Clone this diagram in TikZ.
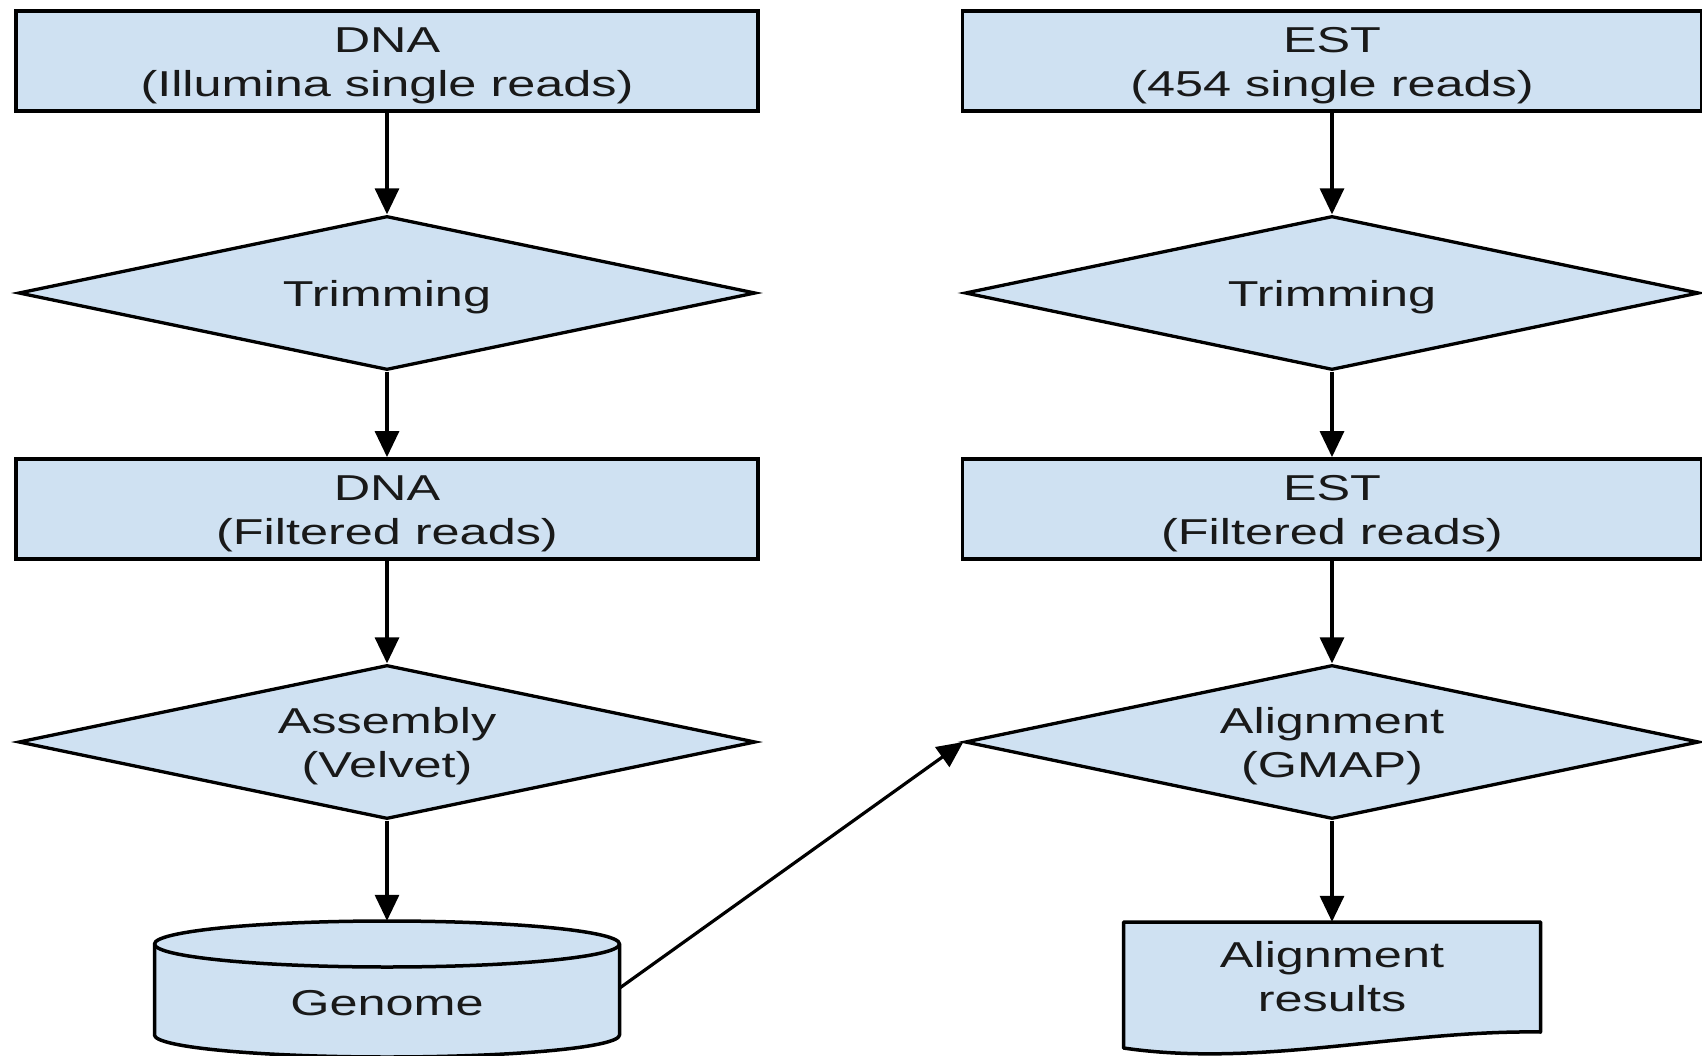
\documentclass[tikz,border=0pt]{standalone}
\usepackage{fontspec}
\setmainfont{Liberation Sans}[FakeStretch=1.4]
\usetikzlibrary{shapes.geometric,arrows.meta}
\definecolor{boxfill}{RGB}{207,225,242}
\newcommand{\lowlbl}[1]{\raisebox{-5pt}[\height][\depth]{\begin{tabular}{@{}c@{}}#1\end{tabular}}}
\begin{document}
\begin{tikzpicture}[x=1pt,y=-1pt,
  every node/.style={font=\fontsize{36}{44}\selectfont, inner sep=0pt, text=black!90},
  procbox/.style={draw, fill=boxfill, line width=3.8pt, minimum width=742pt, minimum height=100pt},
  decision/.style={diamond, draw, fill=boxfill, line width=3.3pt, minimum width=737pt, minimum height=154pt, shape aspect=4.8},
  arr/.style={line width=3.2pt, -{Triangle[width=24pt,length=26pt]}},
  shapeline/.style={draw, fill=boxfill, line width=3.5pt, line join=round}
]
\useasboundingbox (0,0) rectangle (1702,1056);

% left column
\node[procbox] (dna1) at (387,61) {\lowlbl{DNA\\(Illumina single reads)}};
\node[decision] (trim1) at (387,293) {\lowlbl{Trimming}};
\node[procbox] (dna2) at (387,509) {\lowlbl{DNA\\(Filtered reads)}};
\node[decision] (asm) at (387,742) {\lowlbl{Assembly\\(Velvet)}};
\node[minimum width=465pt, minimum height=134pt] (genome) at (387,988) {};

% right column
\node[procbox, minimum width=739pt] (est1) at (1332,61) {\lowlbl{EST\\(454 single reads)}};
\node[decision, minimum width=734pt] (trim2) at (1332,293) {\lowlbl{Trimming}};
\node[procbox, minimum width=739pt] (est2) at (1332,509) {\lowlbl{EST\\(Filtered reads)}};
\node[decision, minimum width=734pt] (aln) at (1332,742) {\lowlbl{Alignment\\(GMAP)}};
\node[minimum width=417pt, minimum height=126pt] (res) at (1332,985) {};

% cylinder (Genome)
\path[shapeline] (154.5,944) -- (154.5,1035)
  arc[start angle=180, end angle=360, x radius=232.5pt, y radius=22pt]
  -- (619.5,944)
  arc[start angle=0, end angle=180, x radius=232.5pt, y radius=23pt] -- cycle;
\draw[line width=3.5pt] (154.5,944)
  arc[start angle=180, end angle=360, x radius=232.5pt, y radius=23pt];
\path (genome.center) ++(0,15) node (genometext) {Genome};

% document (Alignment results)
\path[shapeline] (1123.5,922) -- (1540.5,922) -- (1540.5,1032)
  .. controls (1400,1030) and (1260,1068) .. (1123.5,1048) -- cycle;
\path (res.center) ++(0,-4) node (restext) {\begin{tabular}{@{}c@{}}Alignment\\results\end{tabular}};

% connectors
\draw[arr] (dna1.south) -- (trim1.north);
\draw[arr] (trim1.south) -- (dna2.north);
\draw[arr] (dna2.south) -- (asm.north);
\draw[arr] (asm.south) -- (genome.north);
\draw[arr] (est1.south) -- (trim2.north);
\draw[arr] (trim2.south) -- (est2.north);
\draw[arr] (est2.south) -- (aln.north);
\draw[arr] (aln.south) -- (res.north);
\draw[arr] (genome.east) -- (aln.west);
\end{tikzpicture}
\end{document}
